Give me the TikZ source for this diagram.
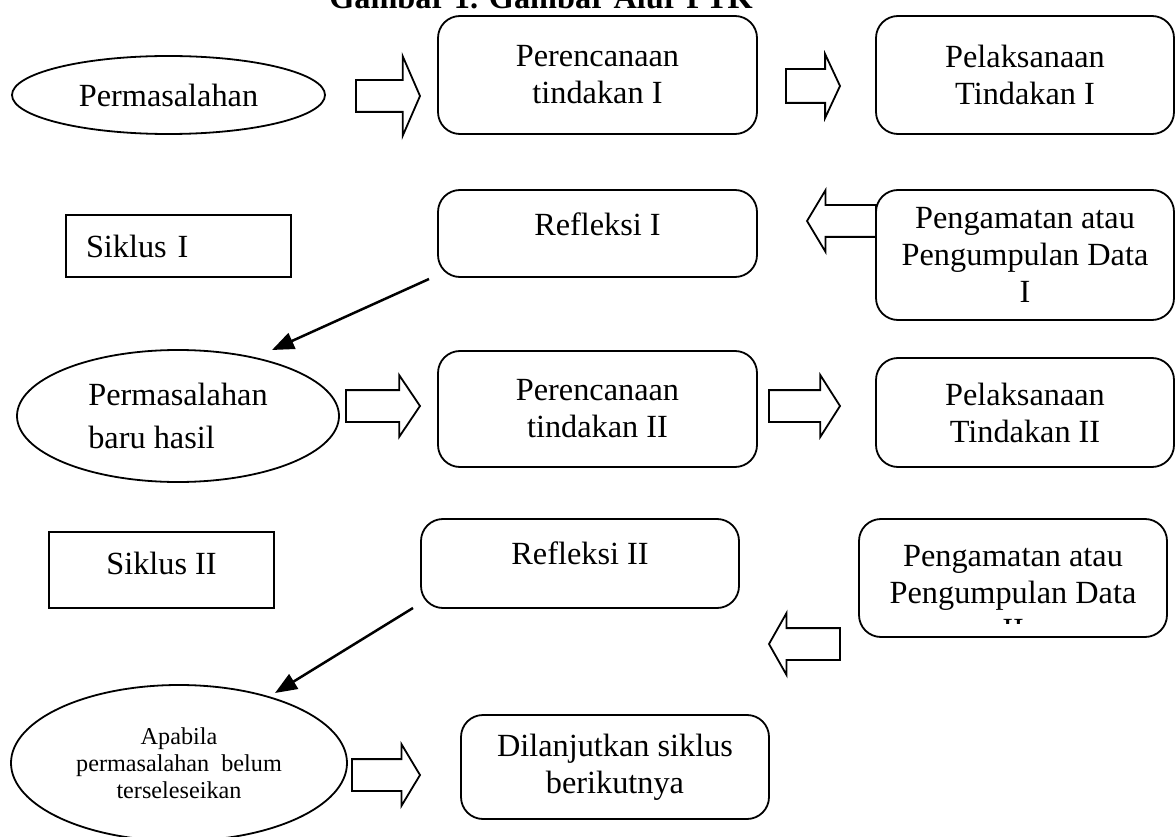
\documentclass[tikz,border=0pt]{standalone}
\usepackage{fontspec}
\setmainfont{Liberation Serif}
\usetikzlibrary{arrows.meta,positioning,shapes.geometric,shapes.arrows}

\begin{document}
\begin{tikzpicture}[x=1pt, y=-1pt, >={Triangle[length=22pt,width=17pt]}, line width=1.8pt,
    font=\fontsize{32.3}{37}\selectfont,
    stage/.style={rectangle, rounded corners=22pt, draw, align=center, inner sep=0pt, outer sep=0pt, minimum width=319pt},
    siklus/.style={rectangle, draw, inner sep=0pt, outer sep=0pt, minimum width=225pt},
    oval/.style={ellipse, draw, inner sep=0pt, outer sep=0pt},
    fat arrow/.style={single arrow, draw, minimum width=0pt, inner xsep=0pt, inner ysep=15pt, outer sep=0pt, single arrow head extend=15pt, single arrow tip angle=118},
    flow/.style={->, line width=2.5pt}]
    \useasboundingbox (0,0) rectangle (1176,837);
    \clip (0,0) rectangle (1176,837);

    % title, cut by the page edge
    \node[anchor=base, font=\fontsize{32.3}{37}\selectfont\bfseries] (title) at (541,9) {Gambar 1. Gambar Alur PTK};

    % siklus I
    \node[oval, minimum width=313pt, minimum height=78pt] (M1) at (168.5,95) {Permasalahan};
    \node[stage, minimum height=118pt] (P1) at (597.5,75) {Perencanaan\\tindakan I};
    \node[stage, minimum width=298pt, minimum height=118pt] (L1) [right=119pt of P1] {Pelaksanaan\\Tindakan I};
    \node[stage, minimum height=87pt, text depth=18pt] (R1) [below=56pt of P1] {Refleksi I};
    \node[stage, minimum width=298pt, minimum height=130pt] (O1) [below=56pt of L1] {Pengamatan atau\\Pengumpulan Data\\I};
    \node[siklus, minimum height=62pt, text width=185pt, inner xsep=20pt, align=left] (C1) at (178.5,246) {Siklus I};

    % siklus II
    \node[oval, minimum width=322pt, minimum height=132pt, align=left, font=\fontsize{32.3}{43}\selectfont] (M2) at (178,416) {Permasalahan\\baru hasil};
    \node[stage, minimum height=116pt] (P2) [below=74pt of R1] {Perencanaan\\tindakan II};
    \node[stage, minimum width=298pt, minimum height=109pt] (L2) [below=38pt of O1] {Pelaksanaan\\Tindakan II};
    \node[siklus, minimum height=76pt, text depth=14pt] (C2) at (161.5,570) {Siklus II};
    \node[stage, minimum width=318pt, minimum height=89pt, text depth=21pt] (R2) at (580,563.5) {Refleksi II};
    \node[stage, minimum width=308pt, minimum height=118pt,
        path picture={\clip (path picture bounding box.north west) rectangle ([yshift=-45pt]path picture bounding box.east);
            \node[anchor=base, font=\fontsize{32.3}{37}\selectfont] at ([yshift=-62pt]path picture bounding box.center) {II};}]
        (O2) at (1013,578) {Pengamatan atau\\Pengumpulan Data};

    % lanjut
    \node[oval, minimum width=336pt, minimum height=156pt, align=center, font=\fontsize{24.2}{27}\selectfont] (M3) at (179,763) {Apabila\\permasalahan~ belum\\terseleseikan};
    \node[stage, minimum width=308pt, minimum height=104pt] (D) at (615,767) {Dilanjutkan siklus\\berikutnya};

    % block arrows
    \node[fat arrow, minimum height=64pt, single arrow head extend=24pt, single arrow tip angle=133, anchor=tip] (A1) at (420,96) {};
    \node[fat arrow, minimum height=54pt, inner ysep=16pt, single arrow tip angle=130, anchor=tip] (A2) at (840,86) {};
    \node[fat arrow, shape border rotate=180, minimum height=69pt, anchor=tip] (B1) at (807,221) {};
    \node[fat arrow, minimum height=74pt, single arrow tip angle=112, anchor=tip] (A3) at (420,406) {};
    \node[fat arrow, minimum height=71pt, single arrow tip angle=115, anchor=tip] (A4) at (840,406) {};
    \node[fat arrow, shape border rotate=180, minimum height=71pt, single arrow tip angle=121, anchor=tip] (B2) at (769,644) {};
    \node[fat arrow, minimum height=68pt, anchor=tip] (A5) at (420,775) {};

    % back to a new problem
    \coordinate (T1) at ([xshift=94pt]M2.north);
    \coordinate (T2) at ([xshift=96pt,yshift=-8pt]M3.north);
    \draw[flow] ([xshift=-9pt,yshift=-2pt]R1.south west) -- (T1);
    \draw[flow] ([xshift=-8pt]R2.south west) -- (T2);
\end{tikzpicture}
\end{document}
